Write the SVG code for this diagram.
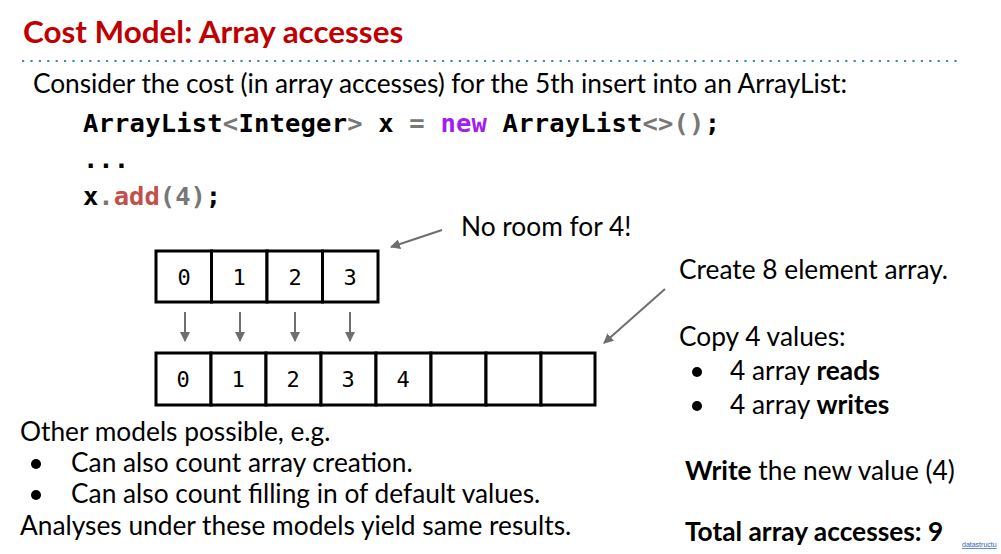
<svg xmlns="http://www.w3.org/2000/svg" width="1001" height="554" viewBox="0 0 1001 554">
<defs>
<style>
.t{font-family:Lato,"Liberation Sans",sans-serif;font-size:26.3px;fill:#000}
.b{font-weight:bold}
.title{font-family:Lato,"Liberation Sans",sans-serif;font-size:31.4px;font-weight:bold;fill:#c00000}
.code{font-family:"DejaVu Sans Mono","Liberation Mono",monospace;font-size:25.5px;font-weight:bold;fill:#000}
.g{fill:#777}
.kw{fill:#a020f0}
.fn{fill:#c0504d}
.cell{fill:#fff;stroke:#000;stroke-width:3}
.dig{font-family:"DejaVu Sans Mono","Liberation Mono",monospace;font-size:22px;fill:#000;text-anchor:middle}
.arr{stroke:#6e6e6e;stroke-width:2;fill:none;marker-end:url(#ah)}
</style>
<marker id="ah" viewBox="0 0 10 10" refX="9" refY="5" markerWidth="5" markerHeight="5" orient="auto" markerUnits="strokeWidth">
<path d="M0,0 L10,5 L0,10 z" fill="#6e6e6e"/>
</marker>
</defs>
<rect width="1001" height="554" fill="#fff"/>
<text class="title" x="23" y="43">Cost Model: Array accesses</text>
<line x1="22" y1="61" x2="960" y2="61" stroke="#3a86d0" stroke-width="2.2" stroke-dasharray="2.2 6.2"/>
<text class="t" x="33" y="93" textLength="814">Consider the cost (in array accesses) for the 5th insert into an ArrayList:</text>
<text class="code" x="83" y="132" textLength="637">ArrayList<tspan class="g">&lt;</tspan>Integer<tspan class="g">&gt;</tspan> x <tspan class="g">=</tspan> <tspan class="kw">new</tspan> ArrayList<tspan class="g">&lt;&gt;()</tspan>;</text>
<text class="code" x="83" y="168">...</text>
<text class="code" x="83" y="205">x<tspan class="g">.</tspan><tspan class="fn">add</tspan><tspan class="g">(4)</tspan>;</text>
<g id="old-array">
<rect class="cell" x="156" y="251" width="55.5" height="51"/>
<rect class="cell" x="211.5" y="251" width="55.5" height="51"/>
<rect class="cell" x="267" y="251" width="55.5" height="51"/>
<rect class="cell" x="322.5" y="251" width="55.5" height="51"/>
<text class="dig" x="184" y="285">0</text>
<text class="dig" x="239" y="285">1</text>
<text class="dig" x="295" y="285">2</text>
<text class="dig" x="350" y="285">3</text>
</g>
<g id="new-array">
<rect class="cell" x="156" y="353" width="55" height="52"/>
<rect class="cell" x="211" y="353" width="55" height="52"/>
<rect class="cell" x="266" y="353" width="55" height="52"/>
<rect class="cell" x="321" y="353" width="55" height="52"/>
<rect class="cell" x="376" y="353" width="55" height="52"/>
<rect class="cell" x="431" y="353" width="55" height="52"/>
<rect class="cell" x="486" y="353" width="55" height="52"/>
<rect class="cell" x="541" y="353" width="54" height="52"/>
<text class="dig" x="183" y="387">0</text>
<text class="dig" x="238" y="387">1</text>
<text class="dig" x="293" y="387">2</text>
<text class="dig" x="348" y="387">3</text>
<text class="dig" x="403" y="387">4</text>
</g>
<g id="connectors">
<line class="arr" x1="185" y1="312" x2="185" y2="341"/>
<line class="arr" x1="240" y1="312" x2="240" y2="341"/>
<line class="arr" x1="295" y1="312" x2="295" y2="341"/>
<line class="arr" x1="350" y1="312" x2="350" y2="341"/>
<line class="arr" x1="442" y1="230" x2="391" y2="247"/>
<line class="arr" x1="665" y1="289" x2="604" y2="343"/>
</g>
<text class="t" x="461" y="236">No room for 4!</text>
<text class="t" x="679" y="279">Create 8 element array.</text>
<text class="t" x="679" y="346">Copy 4 values:</text>
<circle cx="697" cy="372" r="5"/>
<text class="t" x="730" y="380">4 array <tspan class="b">reads</tspan></text>
<circle cx="697" cy="406" r="5"/>
<text class="t" x="730" y="414">4 array <tspan class="b">writes</tspan></text>
<text class="t" x="685" y="480"><tspan class="b">Write</tspan> the new value (4)</text>
<text class="t b" x="685" y="541">Total array accesses: 9</text>
<text class="t" x="20" y="441">Other models possible, e.g.</text>
<circle cx="36" cy="464" r="5"/>
<text class="t" x="71" y="472">Can also count array creation.</text>
<circle cx="36" cy="495" r="5"/>
<text class="t" x="71" y="503">Can also count filling in of default values.</text>
<text class="t" x="20" y="535">Analyses under these models yield same results.</text>
<text x="962" y="547" font-family="Liberation Sans,sans-serif" font-size="7" fill="#1f5fbf" text-decoration="underline">datastructu</text>
</svg>
